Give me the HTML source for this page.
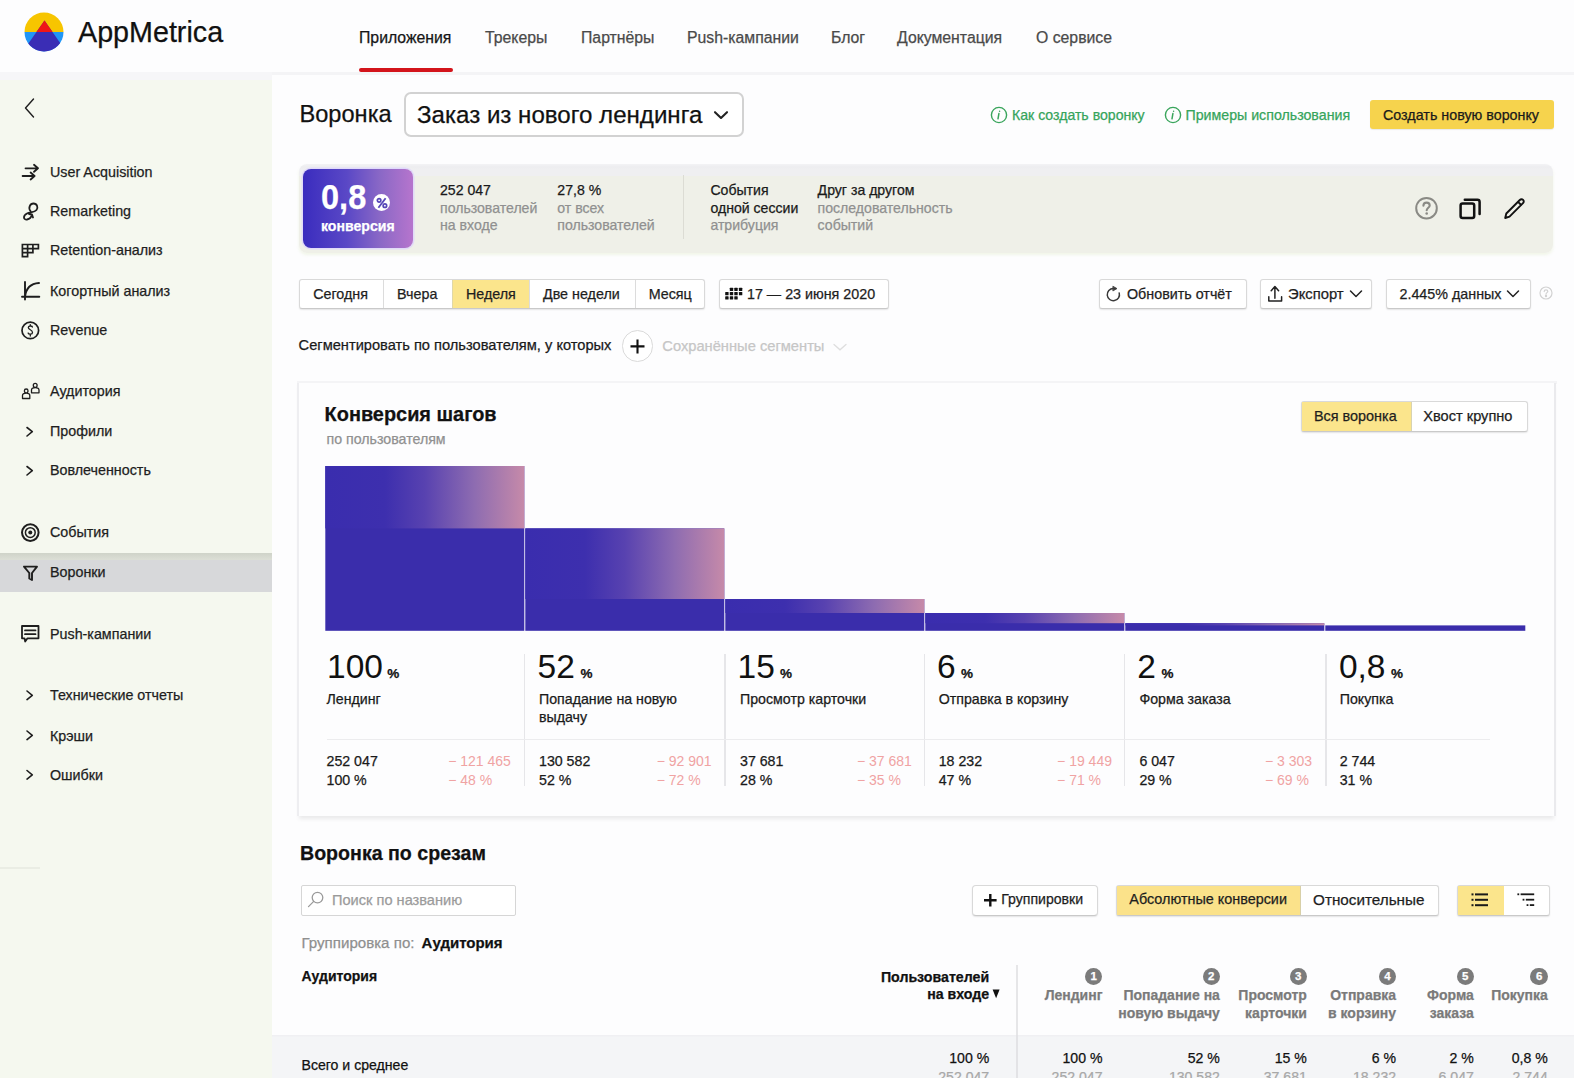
<!DOCTYPE html>
<html><head><meta charset="utf-8">
<style>
*{box-sizing:border-box;margin:0;padding:0}
html,body{width:1574px;height:1078px;overflow:hidden;background:#fdfdfe;font-family:"Liberation Sans",sans-serif;color:#1b1b1b}
.a{position:absolute}
.t,.a{-webkit-text-stroke:0.25px currentColor}
.big{-webkit-text-stroke:0}
.t{position:absolute;white-space:nowrap;line-height:1}
#hdr{position:absolute;left:0;top:0;width:1574px;height:72px;background:#fdfdfe}
#side{position:absolute;left:0;top:72px;width:272px;height:1006px;background:#f5f8ef}
.nav{font-size:15.8px;color:#4a4a4a;top:30px}
.mi{font-size:14.3px;color:#1e1e1e;left:50px}
.ic{position:absolute;left:20px}
.gr{color:#8a8a8a}
.btn{position:absolute;height:30px;background:#fff;border:1px solid #d9d9d9;border-bottom-color:#c9c9c9;border-radius:3px;box-shadow:0 1px 1.5px rgba(0,0,0,.1)}
.bt{font-size:14.3px;color:#1e1e1e}

</style></head><body>
<div id="hdr">
  <svg class="a" style="left:24px;top:12px" width="40" height="40" viewBox="0 0 40 40">
    <defs><clipPath id="lc"><circle cx="20" cy="20" r="19.5"/></clipPath></defs>
    <g clip-path="url(#lc)">
      <rect x="0" y="0" width="40" height="20" fill="#f7c500"/>
      <rect x="0" y="20" width="40" height="20" fill="#2196f7"/>
      <polygon points="20.5,8.5 -9.9,52 50.9,52" fill="#3a2db5"/>
      <polygon points="20.5,8.5 12.5,20 28.5,20" fill="#f01616"/>
    </g>
  </svg>
  <div class="t" style="left:78px;top:18px;font-size:28.7px;color:#111">AppMetrica</div>
  <div class="t nav" style="left:359px;color:#161616">Приложения</div>
  <div class="a" style="left:359px;top:68px;width:94px;height:4px;border-radius:2px;background:#d3141b"></div>
  <div class="t nav" style="left:485px">Трекеры</div>
  <div class="t nav" style="left:581px">Партнёры</div>
  <div class="t nav" style="left:687px">Push-кампании</div>
  <div class="t nav" style="left:831px">Блог</div>
  <div class="t nav" style="left:897px">Документация</div>
  <div class="t nav" style="left:1036px">О сервисе</div>
</div>

<div id="side"></div>
<div class="a" style="left:0;top:71.5px;width:272px;height:8.7px;background:#f6f6f8"></div>
<div class="a" style="left:272px;top:72px;width:1302px;height:2.5px;background:#f4f4f6"></div>
<div class="a" style="left:0;top:866.5px;width:40px;height:2px;background:#eaede4"></div>
<div class="a" style="left:0;top:553px;width:272px;height:39px;background:#d7d8da"></div>
<div class="a" style="left:0;top:553px;width:272px;height:7px;background:linear-gradient(#cfd3c9,#dcdfd6)"></div>
<svg class="a" style="left:0;top:72px" width="272" height="740" viewBox="0 72 272 740" fill="none" stroke="#1e1e1e" stroke-width="1.8" stroke-linecap="round" stroke-linejoin="round">
  <!-- back -->
  <path d="M33.5 99 L25.5 108 L33.5 117" stroke-width="1.4"/>
  <!-- user acq arrows -->
  <path d="M25.5 168.3 H38 M34 164.8 L38 168.3 L34 171.8" stroke-width="1.8"/>
  <path d="M22.6 176 H34.6 M30.6 172.5 L34.6 176 L30.6 179.5" stroke-width="1.8"/>
  <!-- remarketing -->
  <path d="M30.5 211 C28 208 30 203.5 33.5 203.5 C37 203.5 38.5 207.5 36.5 210 C34.5 212.5 30 212 27 213.5 C22.5 216 23.5 220 27 219.5 C30 219 31.5 216.5 32 214.5 M29 214 L32 214.5 L33 217.5"/>
  <!-- retention grid -->
  <path d="M22.4 244.5 H38.4 V248.7 H32.9 V252.6 H27.6 V256.6 H22.4 Z M22.4 248.7 H32.9 M22.4 252.6 H27.6 M27.6 244.5 V252.6 M32.9 244.5 V248.7" stroke-width="1.7" stroke-linecap="square" stroke-linejoin="miter"/>
  <!-- cohort -->
  <path d="M25 282 V299.5 M22 296.8 H39.3 M25 296.8 C26 288 31 283.5 39 283" stroke-width="1.9"/>
  <!-- revenue -->
  <circle cx="30.3" cy="330.4" r="8.3" stroke-width="1.7"/>
  <path d="M32.4 327 C32 325.6 28.3 325.5 28.3 327.6 C28.3 330 32.5 329.6 32.5 332.4 C32.5 334.6 28.6 334.6 28.1 333 M30.3 324.6 V326 M30.3 334.6 V336" stroke-width="1.3"/>
  <!-- audience -->
  <path d="M22.5 398.5 H29.8 V395.5 C29.8 393.8 28 393.2 26.2 393.2 C24.4 393.2 22.5 393.8 22.5 395.5 Z M26.2 393 C27.6 393 28 391.8 28 390.8 C28 389.5 27.3 389 26.2 389 C25.1 389 24.4 389.5 24.4 390.8 C24.4 391.8 24.8 393 26.2 393" stroke-width="1.3"/>
  <path d="M31.5 392.8 H39 V390 C39 388.3 37 387.6 35.2 387.6 C33.4 387.6 31.5 388.3 31.5 390 Z M35.2 387.4 C36.6 387.4 37.1 386.2 37.1 385.2 C37.1 383.9 36.4 383.3 35.2 383.3 C34 383.3 33.3 383.9 33.3 385.2 C33.3 386.2 33.8 387.4 35.2 387.4" stroke-width="1.3"/>
  <!-- chevrons -->
  <path d="M27 427.5 L32.3 431.7 L27 436" stroke-width="1.6"/>
  <path d="M27 466.5 L32.3 470.7 L27 475" stroke-width="1.6"/>
  <path d="M27 691 L32.3 695.3 L27 699.6" stroke-width="1.6"/>
  <path d="M27 731 L32.3 735.3 L27 739.6" stroke-width="1.6"/>
  <path d="M27 770.5 L32.3 774.8 L27 779.1" stroke-width="1.6"/>
  <!-- events -->
  <circle cx="30.3" cy="532.6" r="8.3" stroke-width="2"/>
  <circle cx="30.3" cy="532.6" r="4.9" stroke-width="1.5"/>
  <circle cx="30.3" cy="532.6" r="2" fill="#1e1e1e" stroke="none"/>
  <!-- funnel -->
  <path d="M24 566.6 H37 L32 573 V580 L29.3 578.5 V573 Z" stroke-width="1.9"/>
  <!-- push -->
  <path d="M22 626 H38.5 V638.3 H27.5 L25.2 641.5 L24.5 638.3 H22 Z M25 630.4 H35.5 M25 634.2 H35.5" stroke-width="1.8"/>
</svg>
<div class="t mi" style="top:164.7px">User Acquisition</div>
<div class="t mi" style="top:204.3px">Remarketing</div>
<div class="t mi" style="top:243.2px">Retention-анализ</div>
<div class="t mi" style="top:284px">Когортный анализ</div>
<div class="t mi" style="top:323.2px">Revenue</div>
<div class="t mi" style="top:384.4px">Аудитория</div>
<div class="t mi" style="top:424.2px">Профили</div>
<div class="t mi" style="top:463px">Вовлеченность</div>
<div class="t mi" style="top:525.4px">События</div>
<div class="t mi" style="top:565.2px">Воронки</div>
<div class="t mi" style="top:626.6px">Push-кампании</div>
<div class="t mi" style="top:688.2px">Технические отчеты</div>
<div class="t mi" style="top:728.6px">Крэши</div>
<div class="t mi" style="top:767.6px">Ошибки</div>


<!-- title row -->
<div class="t" style="left:299.5px;top:103.1px;font-size:23.6px;color:#111">Воронка</div>
<div class="a" style="left:404px;top:92px;width:340px;height:45px;border:2px solid #d2d2d2;border-radius:7px;background:#fff"></div>
<div class="t" style="left:417px;top:102.6px;font-size:24.1px;color:#111">Заказ из нового лендинга</div>
<svg class="a" style="left:712px;top:109px" width="18" height="12" viewBox="0 0 18 12"><path d="M3 3.2 L9 9 L15 3.2" fill="none" stroke="#222" stroke-width="2.1" stroke-linecap="round" stroke-linejoin="round"/></svg>
<svg class="a" style="left:990px;top:106px" width="18" height="18" viewBox="0 0 18 18"><circle cx="9" cy="9" r="7.6" fill="none" stroke="#3aa55c" stroke-width="1.4"/><path d="M9.6 5.2 v0.1 M8.9 7.6 L8 12.8" stroke="#3aa55c" stroke-width="1.5" stroke-linecap="round"/></svg>
<div class="t" style="left:1012px;top:107.5px;font-size:14.1px;color:#35a45b">Как создать воронку</div>
<svg class="a" style="left:1164px;top:106px" width="18" height="18" viewBox="0 0 18 18"><circle cx="9" cy="9" r="7.6" fill="none" stroke="#3aa55c" stroke-width="1.4"/><path d="M9.6 5.2 v0.1 M8.9 7.6 L8 12.8" stroke="#3aa55c" stroke-width="1.5" stroke-linecap="round"/></svg>
<div class="t" style="left:1185.5px;top:107.5px;font-size:14.2px;color:#35a45b">Примеры использования</div>
<div class="a" style="left:1370px;top:100px;width:184px;height:29px;background:#f6d34d;border-radius:3px;box-shadow:0 1px 1px rgba(0,0,0,.08)"></div>
<div class="t" style="left:1383px;top:107.5px;font-size:14.3px;color:#1a1a1a">Создать новую воронку</div>

<!-- summary card -->
<div class="a" style="left:299px;top:163.5px;width:1254px;height:89px;border-radius:8px;background:linear-gradient(#f3f3f5 0,#ededf0 3px,#efeff1 5px,#efeff1 11.5px,#eff0e8 12.5px,#eff0e8 100%);box-shadow:0 2px 3px rgba(240,245,230,.9)"></div>
<div class="a" style="left:303px;top:169px;width:110px;height:79px;border-radius:8px;background:linear-gradient(90deg,#3a2cbe 0%,#5a48c6 40%,#8a68c6 70%,#b675cd 100%);box-shadow:0 0 0 1.5px rgba(220,210,255,.7)"></div>
<div class="t" style="left:321.3px;top:178.6px;font-size:35px;font-weight:700;color:#fff;transform:scaleX(0.93);transform-origin:0 0">0,8</div>
<div class="a" style="left:372.6px;top:193.5px;width:17.6px;height:17.6px;border-radius:50%;background:#fff"></div>
<svg class="a" style="left:372.6px;top:193.5px" width="18" height="18" viewBox="0 0 18 18"><g fill="none" stroke="#5646b8" stroke-width="1.7"><circle cx="6.1" cy="6.3" r="1.75"/><circle cx="11.9" cy="11.7" r="1.75"/><path d="M12.6 4.2 L5.4 13.8" stroke-width="1.8"/></g></svg>
<div class="t" style="left:321px;top:219.2px;font-size:14.1px;font-weight:700;color:#fff">конверсия</div>

<div class="t" style="left:440px;top:183.2px;font-size:14.1px;color:#1a1a1a">252 047</div>
<div class="t gr" style="left:440px;top:200.8px;font-size:14.1px;color:#909090">пользователей</div>
<div class="t gr" style="left:440px;top:218.4px;font-size:14.1px;color:#909090">на входе</div>
<div class="t" style="left:557.3px;top:183.2px;font-size:14.1px;color:#1a1a1a">27,8 %</div>
<div class="t gr" style="left:557.3px;top:200.8px;font-size:14.1px;color:#909090">от всех</div>
<div class="t gr" style="left:557.3px;top:218.4px;font-size:14.1px;color:#909090">пользователей</div>
<div class="a" style="left:683px;top:175px;width:1.3px;height:64px;background:#dcdcd4"></div>
<div class="t" style="left:710.4px;top:183.2px;font-size:14.1px;color:#1a1a1a">События</div>
<div class="t" style="left:710.4px;top:200.8px;font-size:14.1px;color:#1a1a1a">одной сессии</div>
<div class="t gr" style="left:710.4px;top:218.4px;font-size:14.1px;color:#909090">атрибуция</div>
<div class="t" style="left:817.6px;top:183.2px;font-size:14.1px;color:#1a1a1a">Друг за другом</div>
<div class="t gr" style="left:817.6px;top:200.8px;font-size:14.1px;color:#909090">последовательность</div>
<div class="t gr" style="left:817.6px;top:218.4px;font-size:14.1px;color:#909090">событий</div>
<svg class="a" style="left:1412px;top:194px" width="30" height="30" viewBox="0 0 30 30" fill="none">
  <circle cx="14.5" cy="14.2" r="10.3" stroke="#8a8a85" stroke-width="2"/>
  <path d="M11.4 11.8 C11.4 9.8 12.8 8.6 14.6 8.6 C16.5 8.6 17.7 9.8 17.7 11.4 C17.7 13.6 14.7 13.8 14.7 16.2" stroke="#8a8a85" stroke-width="2.1" stroke-linecap="round"/>
  <circle cx="14.7" cy="19.5" r="1.3" fill="#8a8a85"/>
</svg>
<svg class="a" style="left:1456px;top:195px" width="30" height="28" viewBox="0 0 30 28" fill="none" stroke="#111" stroke-width="2.5" stroke-linejoin="round">
  <rect x="4.6" y="8.6" width="13.6" height="14.4" rx="2"/>
  <path d="M8.8 4.8 H21.5 C22.8 4.8 23.6 5.6 23.6 6.9 V19" stroke-linecap="round"/>
</svg>
<svg class="a" style="left:1500px;top:194px" width="30" height="30" viewBox="0 0 30 30" fill="none" stroke="#111" stroke-width="1.9" stroke-linejoin="round" stroke-linecap="round">
  <path d="M5.2 24 L6.3 19.5 L19.8 6 C20.8 5 22.2 5 23.1 5.9 C24 6.8 24 8.2 23 9.2 L9.5 22.7 Z M18 7.8 L21.2 11"/>
</svg>


<!-- period row -->
<div class="btn" style="left:299px;top:279px;width:406px"></div>
<div class="a" style="left:452px;top:280px;width:77px;height:28px;background:#fbe58c"></div>
<div class="a" style="left:383px;top:280px;width:1px;height:28px;background:#dcdcdc"></div>
<div class="a" style="left:452px;top:280px;width:1px;height:28px;background:#e0d8a8"></div>
<div class="a" style="left:529px;top:280px;width:1px;height:28px;background:#dcdcdc"></div>
<div class="a" style="left:635px;top:280px;width:1px;height:28px;background:#dcdcdc"></div>
<div class="t bt" style="left:313.2px;top:286.5px">Сегодня</div>
<div class="t bt" style="left:397px;top:286.5px">Вчера</div>
<div class="t bt" style="left:466px;top:286.5px">Неделя</div>
<div class="t bt" style="left:543px;top:286.5px">Две недели</div>
<div class="t bt" style="left:648.7px;top:286.5px">Месяц</div>
<div class="btn" style="left:719px;top:279px;width:170px"></div>
<svg class="a" style="left:724px;top:286px" width="20" height="16" viewBox="724 286 20 16" fill="#111">
  <rect x="729.8" y="287.7" width="3.4" height="3.4" rx=".6"/><rect x="734.3" y="287.7" width="3.4" height="3.4" rx=".6"/><rect x="738.9" y="287.7" width="3.4" height="3.4" rx=".6"/>
  <rect x="725.2" y="291.9" width="3.4" height="3.4" rx=".6"/><rect x="729.8" y="291.9" width="3.4" height="3.4" rx=".6"/><rect x="734.3" y="291.9" width="3.4" height="3.4" rx=".6"/><rect x="738.9" y="291.9" width="3.4" height="3.4" rx=".6"/>
  <rect x="725.2" y="296.2" width="3.4" height="3.4" rx=".6"/><rect x="729.8" y="296.2" width="3.4" height="3.4" rx=".6"/><rect x="734.3" y="296.2" width="3.4" height="3.4" rx=".6"/>
</svg>
<div class="t bt" style="left:747px;top:286.5px">17 — 23 июня 2020</div>

<div class="btn" style="left:1099px;top:279px;width:148px"></div>
<svg class="a" style="left:1104px;top:284px" width="20" height="20" viewBox="0 0 20 20" fill="none" stroke="#3a3a3a" stroke-width="1.5" stroke-linecap="round">
  <path d="M9.3 4.5 A6.1 6.1 0 1 0 15.2 8.9"/><path d="M9.2 2.4 L13 4.6 L9.2 6.8 Z" fill="#3a3a3a" stroke-width="0.8" stroke-linejoin="round"/>
</svg>
<div class="t bt" style="left:1127px;top:286.5px">Обновить отчёт</div>
<div class="btn" style="left:1260px;top:279px;width:112px"></div>
<svg class="a" style="left:1264px;top:283px" width="22" height="22" viewBox="0 0 22 22" fill="none" stroke="#222" stroke-width="1.4" stroke-linecap="round" stroke-linejoin="round">
  <path d="M10.9 3.8 V15.2 M7.2 7.8 L10.9 3.6 L14.6 7.8 M4.8 13.8 V18 H17.6 V13.8" stroke-width="1.5"/>
</svg>
<div class="t bt" style="left:1288px;top:286.5px;font-size:14.8px">Экспорт</div>
<svg class="a" style="left:1348px;top:288px" width="16" height="12" viewBox="0 0 16 12" fill="none" stroke="#222" stroke-width="1.5" stroke-linecap="round" stroke-linejoin="round"><path d="M2.5 3 L8 8.5 L13.5 3"/></svg>
<div class="btn" style="left:1386px;top:279px;width:145px"></div>
<div class="t bt" style="left:1399.5px;top:286.5px">2.445% данных</div>
<svg class="a" style="left:1505px;top:288px" width="16" height="12" viewBox="0 0 16 12" fill="none" stroke="#222" stroke-width="1.5" stroke-linecap="round" stroke-linejoin="round"><path d="M2.5 3 L8 8.5 L13.5 3"/></svg>
<svg class="a" style="left:1538px;top:285px" width="16" height="16" viewBox="0 0 16 16" fill="none" stroke="#d2d2d2" stroke-width="1.2">
  <circle cx="8" cy="8" r="6"/><path d="M6.2 6.6 C6.2 5.5 7 4.9 8 4.9 C9 4.9 9.8 5.5 9.8 6.4 C9.8 7.6 8 7.7 8 9.2" stroke-linecap="round"/><circle cx="8" cy="11" r=".6" fill="#d2d2d2"/>
</svg>

<!-- segment row -->
<div class="t" style="left:298.6px;top:338.3px;font-size:14.65px;color:#1a1a1a">Сегментировать по пользователям, у которых</div>
<div class="a" style="left:621.8px;top:330px;width:31.6px;height:31.6px;border-radius:50%;border:1.2px solid #dadada;background:#fff"></div>
<svg class="a" style="left:627px;top:335.5px" width="21" height="21" viewBox="0 0 21 21"><path d="M3.5 10.4 H17.5 M10.5 3.4 V17.4" stroke="#111" stroke-width="2.1" stroke-linecap="butt"/></svg>
<div class="t" style="left:662.3px;top:339.2px;font-size:14.7px;color:#c6c6c6">Сохранённые сегменты</div>
<svg class="a" style="left:832px;top:341px" width="16" height="12" viewBox="0 0 16 12" fill="none" stroke="#dedede" stroke-width="1.3" stroke-linecap="round"><path d="M2 3.5 L8 8.8 L14 3.5"/></svg>


<!-- chart card -->
<div class="a" style="left:297px;top:381px;width:1260px;height:442px;background:linear-gradient(#f4f4f6,#f4f4f6) top/100% 3px no-repeat;"></div>
<div class="a" style="left:299px;top:383px;width:1255px;height:433px;background:#fdfdfe;box-shadow:-2px 0 0 #eeeef1, 2px 0 0 #eaeaed, 0 3px 4px rgba(0,0,0,.08)"></div>
<div class="t" style="left:324.6px;top:405px;font-size:19.9px;font-weight:700;color:#111">Конверсия шагов</div>
<div class="t" style="left:326.5px;top:432px;font-size:14.2px;color:#909090">по пользователям</div>
<div class="btn" style="left:1301px;top:401px;width:227px;height:31px"></div>
<div class="a" style="left:1302px;top:402px;width:109px;height:29px;background:#fbe58c"></div>
<div class="a" style="left:1410.5px;top:402px;width:1px;height:29px;background:#d8d3b0"></div>
<div class="t bt" style="left:1314px;top:409px;font-size:14.4px">Вся воронка</div>
<div class="t bt" style="left:1423.3px;top:409px;font-size:14.6px">Хвост крупно</div>
<svg class="a" style="left:0;top:0" width="1574" height="1078" viewBox="0 0 1574 1078"><defs><linearGradient id="bg" x1="0" x2="1" y1="0" y2="0"><stop offset="0" stop-color="#3a2dae"/><stop offset="0.3" stop-color="#3d2fae"/><stop offset="0.5" stop-color="#5842b0"/><stop offset="0.75" stop-color="#8e6cb1"/><stop offset="1" stop-color="#c68aa9"/></linearGradient></defs>
<rect x="325.3" y="466" width="199" height="164.8" fill="#3a2dab"/>
<rect x="325.3" y="466" width="199" height="62.4" fill="url(#bg)"/>
<rect x="525.3" y="528.4" width="199" height="102.4" fill="#3a2dab"/>
<rect x="525.3" y="528.4" width="199" height="70.6" fill="url(#bg)"/>
<rect x="725.3" y="599" width="199" height="31.8" fill="#3a2dab"/>
<rect x="725.3" y="599" width="199" height="14.0" fill="url(#bg)"/>
<rect x="925.3" y="613" width="199" height="17.8" fill="#3a2dab"/>
<rect x="925.3" y="613" width="199" height="10.2" fill="url(#bg)"/>
<rect x="1125.3" y="623.2" width="199" height="7.6" fill="#3a2dab"/>
<rect x="1125.3" y="623.2" width="199" height="2.2" fill="url(#bg)"/>
<rect x="1325.3" y="625.4" width="200" height="5.4" fill="#3a2dab"/>
</svg>
<div class="t big" style="left:327.0px;top:650px;font-size:33.5px;color:#111">100</div><div class="t" style="left:387.2px;top:667px;font-size:13.5px;font-weight:700;color:#111">%</div>
<div class="t" style="left:326.5px;top:691.5px;font-size:14.2px;color:#1a1a1a">Лендинг</div>
<div class="t" style="left:326.5px;top:753.5px;font-size:14.2px;color:#1a1a1a">252 047</div>
<div class="t" style="left:326.5px;top:773.3px;font-size:14.2px;color:#1a1a1a">100 %</div>
<div class="t" style="left:448.2px;top:753.5px;font-size:14px;color:#f0a3a3;-webkit-text-stroke:0">− 121 465</div>
<div class="t" style="left:448.2px;top:773.3px;font-size:14px;color:#f0a3a3;-webkit-text-stroke:0">− 48 %</div>
<div class="t big" style="left:537.5px;top:650px;font-size:33.5px;color:#111">52</div><div class="t" style="left:580.4px;top:667px;font-size:13.5px;font-weight:700;color:#111">%</div>
<div class="t" style="left:539px;top:691.5px;font-size:14.2px;color:#1a1a1a">Попадание на новую</div>
<div class="t" style="left:539px;top:709.7px;font-size:14.2px;color:#1a1a1a">выдачу</div>
<div class="t" style="left:539px;top:753.5px;font-size:14.2px;color:#1a1a1a">130 582</div>
<div class="t" style="left:539px;top:773.3px;font-size:14.2px;color:#1a1a1a">52 %</div>
<div class="t" style="left:656.7px;top:753.5px;font-size:14px;color:#f0a3a3;-webkit-text-stroke:0">− 92 901</div>
<div class="t" style="left:656.7px;top:773.3px;font-size:14px;color:#f0a3a3;-webkit-text-stroke:0">− 72 %</div>
<div class="t big" style="left:737.6px;top:650px;font-size:33.5px;color:#111">15</div><div class="t" style="left:780.0px;top:667px;font-size:13.5px;font-weight:700;color:#111">%</div>
<div class="t" style="left:740px;top:691.5px;font-size:14.2px;color:#1a1a1a">Просмотр карточки</div>
<div class="t" style="left:740px;top:753.5px;font-size:14.2px;color:#1a1a1a">37 681</div>
<div class="t" style="left:740px;top:773.3px;font-size:14.2px;color:#1a1a1a">28 %</div>
<div class="t" style="left:857px;top:753.5px;font-size:14px;color:#f0a3a3;-webkit-text-stroke:0">− 37 681</div>
<div class="t" style="left:857px;top:773.3px;font-size:14px;color:#f0a3a3;-webkit-text-stroke:0">− 35 %</div>
<div class="t big" style="left:936.9px;top:650px;font-size:33.5px;color:#111">6</div><div class="t" style="left:960.9px;top:667px;font-size:13.5px;font-weight:700;color:#111">%</div>
<div class="t" style="left:938.7px;top:691.5px;font-size:14.2px;color:#1a1a1a">Отправка в корзину</div>
<div class="t" style="left:938.7px;top:753.5px;font-size:14.2px;color:#1a1a1a">18 232</div>
<div class="t" style="left:938.7px;top:773.3px;font-size:14.2px;color:#1a1a1a">47 %</div>
<div class="t" style="left:1057.1px;top:753.5px;font-size:14px;color:#f0a3a3;-webkit-text-stroke:0">− 19 449</div>
<div class="t" style="left:1057.1px;top:773.3px;font-size:14px;color:#f0a3a3;-webkit-text-stroke:0">− 71 %</div>
<div class="t big" style="left:1137.3px;top:650px;font-size:33.5px;color:#111">2</div><div class="t" style="left:1161.6px;top:667px;font-size:13.5px;font-weight:700;color:#111">%</div>
<div class="t" style="left:1139.4px;top:691.5px;font-size:14.2px;color:#1a1a1a">Форма заказа</div>
<div class="t" style="left:1139.4px;top:753.5px;font-size:14.2px;color:#1a1a1a">6 047</div>
<div class="t" style="left:1139.4px;top:773.3px;font-size:14.2px;color:#1a1a1a">29 %</div>
<div class="t" style="left:1264.9px;top:753.5px;font-size:14px;color:#f0a3a3;-webkit-text-stroke:0">− 3 303</div>
<div class="t" style="left:1264.9px;top:773.3px;font-size:14px;color:#f0a3a3;-webkit-text-stroke:0">− 69 %</div>
<div class="t big" style="left:1338.9px;top:650px;font-size:33.5px;color:#111">0,8</div><div class="t" style="left:1391.0px;top:667px;font-size:13.5px;font-weight:700;color:#111">%</div>
<div class="t" style="left:1339.7px;top:691.5px;font-size:14.2px;color:#1a1a1a">Покупка</div>
<div class="t" style="left:1339.7px;top:753.5px;font-size:14.2px;color:#1a1a1a">2 744</div>
<div class="t" style="left:1339.7px;top:773.3px;font-size:14.2px;color:#1a1a1a">31 %</div>
<div class="a" style="left:524.0px;top:653.5px;width:1.3px;height:132px;background:#e6e6e9"></div>
<div class="a" style="left:724.3px;top:653.5px;width:1.3px;height:132px;background:#e6e6e9"></div>
<div class="a" style="left:924.1px;top:653.5px;width:1.3px;height:132px;background:#e6e6e9"></div>
<div class="a" style="left:1124.2px;top:653.5px;width:1.3px;height:132px;background:#e6e6e9"></div>
<div class="a" style="left:1325.4px;top:653.5px;width:1.3px;height:132px;background:#e6e6e9"></div>
<div class="a" style="left:327px;top:738.6px;width:1163px;height:1.5px;background:#ececee"></div>


<!-- slices section -->
<div class="t" style="left:300px;top:843.7px;font-size:19.6px;font-weight:700;color:#111">Воронка по срезам</div>
<div class="a" style="left:300.5px;top:884.7px;width:215px;height:31px;border:1.5px solid #d6d6d6;border-radius:2px;background:#fff"></div>
<svg class="a" style="left:305px;top:890px" width="22" height="20" viewBox="0 0 22 20" fill="none" stroke="#9a9a9a" stroke-width="1.3" stroke-linecap="round">
  <circle cx="12.5" cy="7.6" r="5.3"/><path d="M8.7 11.4 L3.5 16.6"/>
</svg>
<div class="t" style="left:332px;top:893.3px;font-size:14.6px;color:#9b9b9b">Поиск по названию</div>
<div class="t" style="left:301.5px;top:934.8px;font-size:15.1px;color:#8f8f8f">Группировка по:</div>
<div class="t" style="left:421.6px;top:934.8px;font-size:15px;font-weight:700;color:#111">Аудитория</div>

<div class="btn" style="left:972px;top:885px;width:126px;height:30.5px;border-radius:4px"></div>
<svg class="a" style="left:982px;top:891px" width="17" height="18" viewBox="0 0 17 18"><path d="M2 9.2 H14.6 M8.3 2.9 V15.5" stroke="#111" stroke-width="2.4"/></svg>
<div class="t bt" style="left:1001.2px;top:892.4px;font-size:14.1px">Группировки</div>

<div class="btn" style="left:1115.8px;top:885.3px;width:323.5px;height:30.3px"></div>
<div class="a" style="left:1116.5px;top:886px;width:183.3px;height:28.8px;background:#fbe28a"></div>
<div class="a" style="left:1299.6px;top:886px;width:1px;height:28.8px;background:#d8d0a8"></div>
<div class="t bt" style="left:1129.3px;top:892.1px;font-size:14.4px">Абсолютные конверсии</div>
<div class="t bt" style="left:1313.1px;top:891.9px;font-size:15.25px">Относительные</div>

<div class="btn" style="left:1457.4px;top:885.3px;width:92.6px;height:30.3px"></div>
<div class="a" style="left:1458px;top:886px;width:46px;height:28.8px;background:#fbe58c"></div>
<svg class="a" style="left:1468px;top:890px" width="24" height="20" viewBox="0 0 24 20" fill="#1a1a1a">
  <rect x="3.5" y="3.4" width="2" height="2"/><rect x="7" y="3.4" width="13" height="2"/>
  <rect x="3.5" y="8.8" width="2" height="2"/><rect x="7" y="8.8" width="13" height="2"/>
  <rect x="3.5" y="14.2" width="2" height="2"/><rect x="7" y="14.2" width="13" height="2"/>
</svg>
<svg class="a" style="left:1514px;top:890px" width="24" height="20" viewBox="0 0 24 20" fill="#1a1a1a">
  <rect x="3.4" y="3.4" width="1.8" height="1.8"/><rect x="6.6" y="3.4" width="13.6" height="1.8"/>
  <rect x="8.6" y="8.8" width="1.8" height="1.8"/><rect x="11.8" y="8.8" width="8.4" height="1.8"/>
  <rect x="12.6" y="14.2" width="1.8" height="1.8"/><rect x="15.8" y="14.2" width="4.4" height="1.8"/>
</svg>

<!-- table header -->
<div class="t" style="left:301.5px;top:968.6px;font-size:14px;font-weight:700;color:#111">Аудитория</div>
<div class="a" style="left:829.2px;top:968.5px;width:160px;text-align:right;font-size:14.2px;font-weight:700;color:#111;line-height:17.7px">Пользователей<br>на входе</div>
<svg class="a" style="left:991px;top:988px" width="10" height="12" viewBox="0 0 10 12"><path d="M1.6 1.6 H8.6 L5.1 10.2 Z" fill="#111"/></svg>
<div class="a" style="left:1016.3px;top:964.7px;width:1.3px;height:114px;background:#e6e6e8"></div>
<div class="a" style="left:272px;top:1034.6px;width:1302px;height:44px;background:linear-gradient(#efeff2,#f4f5f7 2.5px)"></div>
<div class="a" style="left:1016.3px;top:1034.6px;width:1.3px;height:44px;background:#e3e3e6"></div>
<div class="t" style="left:301.5px;top:1057.7px;font-size:14.1px;color:#111">Всего и среднее</div>
<div class="a" style="left:1085.1px;top:967.5px;width:17.4px;height:17.4px;border-radius:50%;background:#7b7b7b;color:#fff;font-size:11.5px;font-weight:700;line-height:17.4px;text-align:center">1</div>
<div class="a" style="left:942.5px;top:986.8px;width:160px;text-align:right;font-size:14px;font-weight:700;color:#7a7a7a;line-height:17.8px;white-space:nowrap">Лендинг</div>
<div class="a" style="left:942.5px;top:1051px;width:160px;text-align:right;font-size:14.1px;color:#111;line-height:14.1px">100 %</div>
<div class="a" style="left:942.5px;top:1069.5px;width:160px;text-align:right;font-size:14.1px;color:#a8a8a8;line-height:14.1px">252 047</div>
<div class="a" style="left:1202.5px;top:967.5px;width:17.4px;height:17.4px;border-radius:50%;background:#7b7b7b;color:#fff;font-size:11.5px;font-weight:700;line-height:17.4px;text-align:center">2</div>
<div class="a" style="left:1059.9px;top:986.8px;width:160px;text-align:right;font-size:14px;font-weight:700;color:#7a7a7a;line-height:17.8px;white-space:nowrap">Попадание на<br>новую выдачу</div>
<div class="a" style="left:1059.9px;top:1051px;width:160px;text-align:right;font-size:14.1px;color:#111;line-height:14.1px">52 %</div>
<div class="a" style="left:1059.9px;top:1069.5px;width:160px;text-align:right;font-size:14.1px;color:#a8a8a8;line-height:14.1px">130 582</div>
<div class="a" style="left:1289.5px;top:967.5px;width:17.4px;height:17.4px;border-radius:50%;background:#7b7b7b;color:#fff;font-size:11.5px;font-weight:700;line-height:17.4px;text-align:center">3</div>
<div class="a" style="left:1146.9px;top:986.8px;width:160px;text-align:right;font-size:14px;font-weight:700;color:#7a7a7a;line-height:17.8px;white-space:nowrap">Просмотр<br>карточки</div>
<div class="a" style="left:1146.9px;top:1051px;width:160px;text-align:right;font-size:14.1px;color:#111;line-height:14.1px">15 %</div>
<div class="a" style="left:1146.9px;top:1069.5px;width:160px;text-align:right;font-size:14.1px;color:#a8a8a8;line-height:14.1px">37 681</div>
<div class="a" style="left:1378.7px;top:967.5px;width:17.4px;height:17.4px;border-radius:50%;background:#7b7b7b;color:#fff;font-size:11.5px;font-weight:700;line-height:17.4px;text-align:center">4</div>
<div class="a" style="left:1236.1px;top:986.8px;width:160px;text-align:right;font-size:14px;font-weight:700;color:#7a7a7a;line-height:17.8px;white-space:nowrap">Отправка<br>в корзину</div>
<div class="a" style="left:1236.1px;top:1051px;width:160px;text-align:right;font-size:14.1px;color:#111;line-height:14.1px">6 %</div>
<div class="a" style="left:1236.1px;top:1069.5px;width:160px;text-align:right;font-size:14.1px;color:#a8a8a8;line-height:14.1px">18 232</div>
<div class="a" style="left:1456.5px;top:967.5px;width:17.4px;height:17.4px;border-radius:50%;background:#7b7b7b;color:#fff;font-size:11.5px;font-weight:700;line-height:17.4px;text-align:center">5</div>
<div class="a" style="left:1313.9px;top:986.8px;width:160px;text-align:right;font-size:14px;font-weight:700;color:#7a7a7a;line-height:17.8px;white-space:nowrap">Форма<br>заказа</div>
<div class="a" style="left:1313.9px;top:1051px;width:160px;text-align:right;font-size:14.1px;color:#111;line-height:14.1px">2 %</div>
<div class="a" style="left:1313.9px;top:1069.5px;width:160px;text-align:right;font-size:14.1px;color:#a8a8a8;line-height:14.1px">6 047</div>
<div class="a" style="left:1530.4px;top:967.5px;width:17.4px;height:17.4px;border-radius:50%;background:#7b7b7b;color:#fff;font-size:11.5px;font-weight:700;line-height:17.4px;text-align:center">6</div>
<div class="a" style="left:1387.8px;top:986.8px;width:160px;text-align:right;font-size:14px;font-weight:700;color:#7a7a7a;line-height:17.8px;white-space:nowrap">Покупка</div>
<div class="a" style="left:1387.8px;top:1051px;width:160px;text-align:right;font-size:14.1px;color:#111;line-height:14.1px">0,8 %</div>
<div class="a" style="left:1387.8px;top:1069.5px;width:160px;text-align:right;font-size:14.1px;color:#a8a8a8;line-height:14.1px">2 744</div>
<div class="a" style="left:829.2px;top:1051px;width:160px;text-align:right;font-size:14.1px;color:#111;line-height:14.1px">100 %</div>
<div class="a" style="left:829.2px;top:1069.5px;width:160px;text-align:right;font-size:14.1px;color:#a8a8a8;line-height:14.1px">252 047</div>

</body></html>
